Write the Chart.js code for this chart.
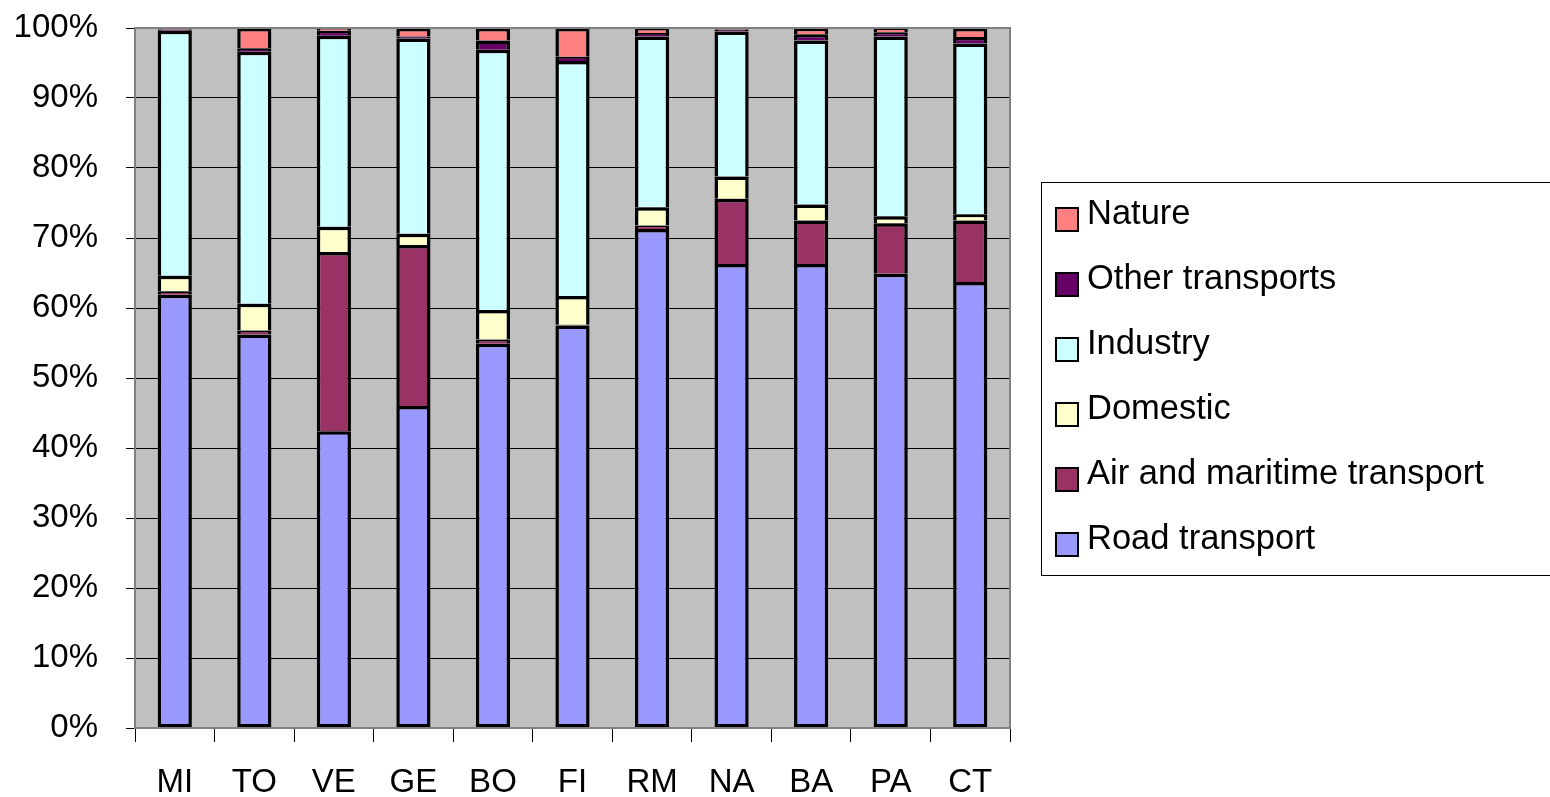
<!DOCTYPE html>
<html>
<head>
<meta charset="utf-8">
<script src="https://cdn.jsdelivr.net/npm/chart.js@4/dist/chart.umd.min.js"></script>
<style>
  html, body { margin: 0; padding: 0; background: #fff; }
  #wrap { width: 1550px; height: 797px; position: relative; }
</style>
</head>
<body>
<div id="wrap"><canvas id="chart"></canvas></div>
<script>
// data (share of emissions, %)
const cities = ['MI', 'TO', 'VE', 'GE', 'BO', 'FI', 'RM', 'NA', 'BA', 'PA', 'CT'];
const roadTransport = [61.9, 56.2, 42.4, 46.0, 54.9, 57.5, 71.3, 66.3, 66.3, 64.9, 63.7];
const airMaritime   = [0.5, 0.6, 25.6, 23.0, 0.6, 0.1, 0.5, 9.3, 6.2, 7.2, 8.8];
const domestic      = [2.2, 3.8, 3.6, 1.6, 4.2, 4.1, 2.6, 3.2, 2.3, 1.0, 0.9];
const industry      = [35.0, 36.0, 27.3, 27.9, 37.2, 33.6, 24.4, 20.7, 23.4, 25.7, 24.4];
const otherTransport = [0.2, 0.5, 0.7, 0.3, 1.3, 0.6, 0.5, 0.3, 0.9, 0.6, 0.9];
const nature        = [0.2, 2.9, 0.4, 1.2, 1.8, 4.1, 0.7, 0.2, 0.9, 0.6, 1.3];
const yTicks = [0, 10, 20, 30, 40, 50, 60, 70, 80, 90, 100];

const FONT = '"Liberation Sans", Arial, sans-serif';

function series(label, data, color, bottomEdge) {
  return {
    label: label,
    data: data,
    backgroundColor: color,
    borderColor: '#000',
    // one shared black line between stacked pieces
    borderWidth: { left: 3.5, right: 3.5, top: 3.5, bottom: bottomEdge ? 3.5 : 0 },
    borderSkipped: false,
    inflateAmount: 0,
    barPercentage: 0.43,
    categoryPercentage: 1.0
  };
}

// grey plot area with border
const plotBg = {
  id: 'plotBg',
  beforeDraw(chart) {
    const { ctx, chartArea: a } = chart;
    ctx.save();
    ctx.fillStyle = '#C0C0C0';
    ctx.fillRect(a.left, a.top, a.right - a.left, a.bottom - a.top);
    ctx.restore();
  },
  afterDatasetsDraw(chart) {
    const { ctx, chartArea: a } = chart;
    ctx.save();
    ctx.strokeStyle = '#808080';
    ctx.lineWidth = 2;
    ctx.strokeRect(a.left, a.top, a.right - a.left, a.bottom - a.top);
    ctx.restore();
  }
};

// boxed legend on the right, top entry = top of the stack
const boxLegend = {
  id: 'boxLegend',
  afterDraw(chart) {
    const { ctx } = chart;
    const sets = chart.data.datasets.slice().reverse();
    ctx.save();
    ctx.strokeStyle = '#000';
    ctx.lineWidth = 1;
    ctx.strokeRect(1041.5, 182.5, 520, 393);
    ctx.font = '34.5px ' + FONT;
    ctx.textBaseline = 'middle';
    sets.forEach((ds, i) => {
      const y = 214 + i * 65;
      ctx.fillStyle = ds.backgroundColor;
      ctx.fillRect(1056, y - 6, 22, 23);
      ctx.lineWidth = 2;
      ctx.strokeStyle = '#000';
      ctx.strokeRect(1056, y - 6, 22, 23);
      ctx.fillStyle = '#000';
      ctx.fillText(ds.label, 1087, y);
    });
    ctx.restore();
  }
};

new Chart(document.getElementById('chart'), {
  type: 'bar',
  data: {
    labels: cities,
    datasets: [
      series('Road transport', roadTransport, '#9999FF', true),
      series('Air and maritime transport', airMaritime, '#993366'),
      series('Domestic', domestic, '#FFFFCC'),
      series('Industry', industry, '#CCFFFF'),
      series('Other transports', otherTransport, '#660066'),
      series('Nature', nature, '#FF8080')
    ]
  },
  options: {
    responsive: true,
    maintainAspectRatio: false,
    animation: false,
    layout: { padding: { left: 0, top: 28, right: 540, bottom: 0 } },
    plugins: {
      legend: { display: false },
      tooltip: { enabled: false }
    },
    scales: {
      x: {
        stacked: true,
        offset: true,
        grid: {
          offset: true,
          drawOnChartArea: false,
          drawTicks: true,
          tickLength: 14,
          color: '#000',
          lineWidth: 1
        },
        border: { display: false },
        ticks: {
          color: '#000',
          font: { family: FONT, size: 33 },
          padding: 21,
          maxRotation: 0
        },
        afterFit(scale) {
          scale.height = 69;
          scale.paddingLeft = 0;
          scale.paddingRight = 0;
        }
      },
      y: {
        stacked: true,
        min: 0,
        max: 100,
        afterBuildTicks(scale) {
          scale.ticks = yTicks.map(v => ({ value: v }));
        },
        grid: {
          color: '#000',
          lineWidth: 1,
          drawTicks: true,
          tickLength: 9
        },
        border: { display: false },
        ticks: {
          color: '#000',
          font: { family: FONT, size: 33 },
          padding: 28,
          callback: v => v + '%'
        },
        afterFit(scale) {
          scale.width = 135;
          scale.paddingTop = 0;
          scale.paddingBottom = 0;
        }
      }
    }
  },
  plugins: [plotBg, boxLegend]
});
</script>
</body>
</html>
